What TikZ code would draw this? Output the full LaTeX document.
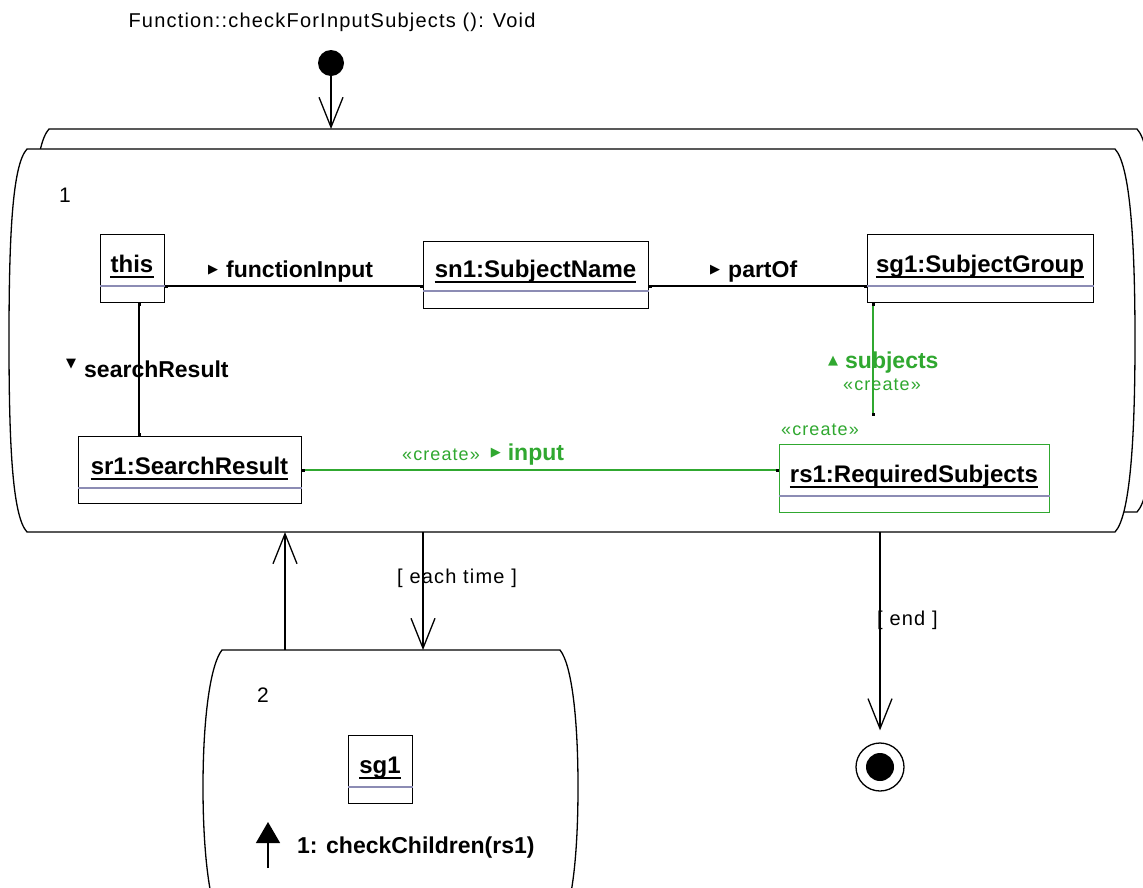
\documentclass[tikz,border=0pt]{standalone}
\usepackage{fontspec}
\setmainfont{Liberation Sans}
\newfontfamily\regfont[LetterSpace=6]{Liberation Sans}
\newfontfamily\symfont{DejaVu Sans}
\usetikzlibrary{arrows.meta,calc}
\definecolor{umlgreen}{RGB}{48,168,48}
\definecolor{divcol}{RGB}{140,140,180}
\newcommand\mytri[2]{\raisebox{#2}{\symfont\fontsize{13}{13}\selectfont #1}}
\newcommand\umlobj[8]{%
  \node[objframe, draw=#8, minimum width=#4pt, minimum height=#5pt] (#1) at (#2,#3) {};
  \draw[divider] (#1.west |- 0,#6) -- (#1.east |- 0,#6);
  \node[objname, anchor=base] (#1-name) at ({#2+#4/2},{#6-14}) {#7};
  \draw[uline] ([yshift=-5pt]#1-name.base west) -- ([yshift=-5pt]#1-name.base east);
}
\tikzset{
  objframe/.style={draw, line width=1.3pt, fill=white, inner sep=0pt, anchor=north west},
  divider/.style={draw=divcol, line width=1.3pt},
  objname/.style={font=\fontsize{24}{28}\selectfont\bfseries, inner sep=0pt},
  uline/.style={draw=black, line width=1.3pt},
  lbl/.style={font=\fontsize{23}{26}\selectfont\bfseries, inner sep=0pt, anchor=base west},
  reg/.style={font=\regfont\fontsize{20}{24}\selectfont, inner sep=0pt},
  stereo/.style={font=\regfont\fontsize{18}{20}\selectfont, text=umlgreen, inner sep=0pt, anchor=base west},
  assoc/.style={draw=black, line width=1.3pt, {Square[length=3pt,width=3pt,color=black]}-{Square[length=3pt,width=3pt,color=black]}},
  flow/.style={draw=black, line width=1.3pt, -{Straight Barb[length=30pt,width=24pt]}},
  ghost/.style={inner sep=0pt, outer sep=0pt, anchor=north west},
  actshape/.style={draw=black, line width=1.3pt, fill=white},
}
\begin{document}
\begin{tikzpicture}[x=1pt,y=-1pt]
\useasboundingbox (0,0) rectangle (1143,887);
\clip (0,0) rectangle (1143,887);

% title
\node[reg, anchor=base] (title) at (332,27) {Function::checkForInputSubjects (): Void};

% start node
\node[circle, fill=black, minimum size=26pt, inner sep=0pt] (start) at (331,63) {};

% activity 1 (stacked) : ghost nodes for anchoring
\node[ghost, minimum width=1088pt, minimum height=383pt] (actback) at (49,129) {};
\node[ghost, minimum width=1088pt, minimum height=383pt] (act1) at (27,149) {};
\node[ghost, minimum width=338pt, minimum height=275pt] (act2) at (222,650) {};

\path[actshape] (49,129) -- (1137,129) .. controls (1152,145) and (1157,220) .. (1157,320)
   .. controls (1157,420) and (1152,496) .. (1137,512) -- (49,512)
   .. controls (34,496) and (31,420) .. (31,320) .. controls (31,220) and (34,145) .. (49,129) -- cycle;
\path[actshape] (27,149) -- (1115,149) .. controls (1130,165) and (1135,240) .. (1135,340)
   .. controls (1135,440) and (1130,516) .. (1115,532) -- (27,532)
   .. controls (12,516) and (9,440) .. (9,340) .. controls (9,240) and (12,165) .. (27,149) -- cycle;
\path[actshape] (222,650) -- (560,650) .. controls (572,665) and (578,720) .. (578,787)
   .. controls (578,855) and (572,910) .. (560,925) -- (222,925)
   .. controls (210,910) and (203,855) .. (203,787) .. controls (203,720) and (210,665) .. (222,650) -- cycle;

\draw[flow] (start) -- ([xshift=282pt]actback.north west);

\node[reg, font=\regfont\fontsize{21}{24}\selectfont, anchor=base west] (n1) at (59,202) {1};
\node[reg, font=\regfont\fontsize{21}{24}\selectfont, anchor=base west] (n2) at (257,702) {2};

% objects
\umlobj{this}{100}{234}{64}{68}{286}{this}{black}
\umlobj{sn1}{423}{241}{225}{67}{291}{sn1:SubjectName}{black}
\umlobj{sg1}{867}{234}{226}{68}{286}{sg1:SubjectGroup}{black}
\umlobj{sr1}{78}{436}{223}{67}{488}{sr1:SearchResult}{black}
\umlobj{rs1}{779}{444}{270}{68}{496}{rs1:RequiredSubjects}{umlgreen}
\umlobj{sgb}{348}{735}{64}{68}{787}{sg1}{black}
\coordinate (rs1top) at (873,416);

% links
\draw[assoc] (this.east |- 0,286) -- (sn1.west |- 0,286);
\draw[assoc] (sn1.east |- 0,286) -- (sg1.west |- 0,286);
\draw[assoc] (this.south -| 139,0) -- (sr1.north -| 139,0);
\draw[assoc, draw=umlgreen] (sr1.east |- 0,470) -- (rs1.west |- 0,470);
\draw[assoc, draw=umlgreen] (sg1.south -| 873,0) -- (rs1top);

% link labels
\node[lbl] (lfi) at (208,277) {\mytri{▶}{4pt}\hspace{8pt}functionInput};
\node[lbl] (lpo) at (710,277) {\mytri{▶}{4pt}\hspace{8pt}partOf};
\node[lbl] (lsr) at (66,377) {\mytri{▼}{10pt}\hspace{8pt}searchResult};
\node[lbl, text=umlgreen] (lsu) at (828,368) {\mytri{▲}{4pt}\hspace{7pt}subjects};
\node[stereo] (lsuc) at (843,390) {«create»};
\node[stereo] (rs1st) at (781,435) {«create»};
\node[lbl, text=umlgreen] (lin) at (402,460) {{\regfont\fontsize{18}{20}\selectfont\mdseries «create»}\hspace{11pt}\mytri{▶}{4pt}\hspace{7pt}input};

% transitions
\draw[flow] ([xshift=396pt]act1.south west) -- ([xshift=201pt]act2.north west);
\draw[flow] ([xshift=63pt]act2.north west) -- ([xshift=258pt]act1.south west);
\node[reg, anchor=base west] (lev) at (397,583) {[ each time ]};

\node[circle, draw=black, line width=1.3pt, minimum size=48pt, inner sep=0pt] (endn) at (880,767) {};
\node[circle, fill=black, minimum size=28pt, inner sep=0pt] (endin) at (endn.center) {};
\draw[flow, shorten >=12pt] ([xshift=853pt]act1.south west) -- (endn.north);
\node[reg, anchor=base west] (lend) at (877,625) {[ end ]};

% message
\coordinate (msgS) at (268,868);
\coordinate (msgE) at (268,822);
\draw[line width=1.3pt, -{Triangle[length=21pt,width=24pt]}] (msgS) -- (msgE);
\node[lbl] (lmsg) at (297,853) {1: checkChildren(rs1)};
\end{tikzpicture}
\end{document}
